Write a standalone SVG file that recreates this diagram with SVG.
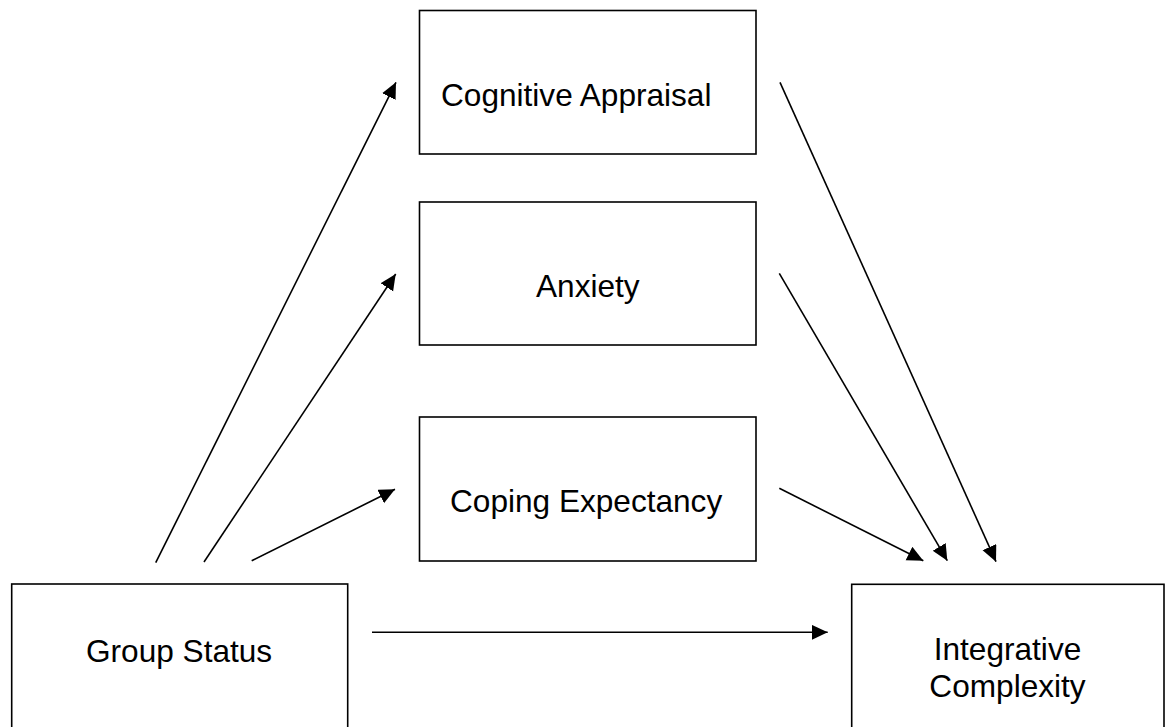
<svg xmlns="http://www.w3.org/2000/svg" width="1167" height="727" viewBox="0 0 1167 727">
<style>
.box{fill:#fff;stroke:#000;stroke-width:1.6}
.lbl{font-family:"Liberation Sans",Arial,sans-serif;font-size:31.6px;fill:#000}
.c{stroke:#000;stroke-width:1.6;fill:none;marker-end:url(#ah)}
</style>
<defs>
<marker id="ah" markerUnits="userSpaceOnUse" markerWidth="17" markerHeight="16" refX="16" refY="7.5" orient="auto">
<path d="M0,0 L16,7.5 L0,15 z" fill="#000"/>
</marker>
</defs>
<rect width="1167" height="727" fill="#fff"/>
<g id="cognitive">
<rect class="box" x="419.5" y="10.5" width="336.5" height="143.5"/>
<text class="lbl" x="441" y="106">Cognitive Appraisal</text>
</g>
<g id="anxiety">
<rect class="box" x="419.5" y="202" width="336.5" height="143"/>
<text class="lbl" x="536" y="297">Anxiety</text>
</g>
<g id="coping">
<rect class="box" x="419.5" y="417" width="336.5" height="144"/>
<text class="lbl" x="450" y="512">Coping Expectancy</text>
</g>
<g id="group">
<rect class="box" x="11.7" y="584" width="336" height="160"/>
<text class="lbl" x="86" y="662">Group Status</text>
</g>
<g id="integrative">
<rect class="box" x="851.7" y="584.3" width="312.3" height="160"/>
<text class="lbl" x="1007.5" y="660" text-anchor="middle">Integrative</text>
<text class="lbl" x="1007.5" y="697" text-anchor="middle">Complexity</text>
</g>
<g id="connectors">
<line class="c" x1="155.7" y1="562.7" x2="396" y2="82.3"/>
<line class="c" x1="204" y1="562" x2="395.7" y2="274"/>
<line class="c" x1="251.7" y1="560.7" x2="395" y2="489.3"/>
<line class="c" x1="372" y1="632.3" x2="827.7" y2="632.3"/>
<line class="c" x1="780" y1="82.3" x2="996" y2="561.7"/>
<line class="c" x1="779.3" y1="273.3" x2="947.3" y2="560.7"/>
<line class="c" x1="779.3" y1="488.3" x2="923.3" y2="560.7"/>
</g>
</svg>
